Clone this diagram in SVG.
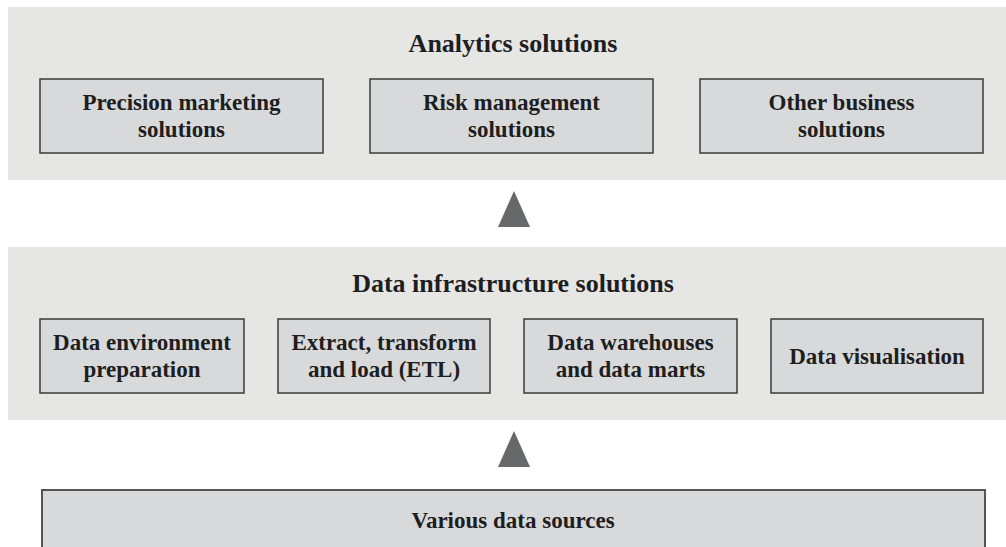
<svg xmlns="http://www.w3.org/2000/svg" width="1006" height="547" viewBox="0 0 1006 547">
  <style>
    .panel { fill: #e6e6e5; }
    .box { fill: #d8d9db; stroke: #3a3a3a; stroke-width: 1.5; }
    .src { fill: #d8d9db; stroke: #555555; stroke-width: 2; }
    .title { font-family: "Liberation Serif", "Times New Roman", serif; font-weight: bold; font-size: 26px; fill: #1e1e1e; text-anchor: middle; }
    .label { font-family: "Liberation Serif", "Times New Roman", serif; font-weight: bold; font-size: 23px; fill: #1e1e1e; text-anchor: middle; }
    .arrow { fill: #67686a; }
  </style>
  <rect width="1006" height="547" fill="#ffffff"/>

  <!-- Top layer: analytics -->
  <g id="analytics-panel">
    <rect class="panel" x="8" y="7" width="998" height="173"/>
    <text class="title" x="513" y="52">Analytics solutions</text>
  </g>
  <g id="precision-marketing">
    <rect class="box" x="40" y="79" width="283" height="74"/>
    <text class="label" x="181.5" y="110">Precision marketing</text>
    <text class="label" x="181.5" y="137">solutions</text>
  </g>
  <g id="risk-management">
    <rect class="box" x="370" y="79" width="283" height="74"/>
    <text class="label" x="511.5" y="110">Risk management</text>
    <text class="label" x="511.5" y="137">solutions</text>
  </g>
  <g id="other-business">
    <rect class="box" x="700" y="79" width="283" height="74"/>
    <text class="label" x="841.5" y="110">Other business</text>
    <text class="label" x="841.5" y="137">solutions</text>
  </g>

  <!-- Middle layer: data infrastructure -->
  <g id="infrastructure-panel">
    <rect class="panel" x="8" y="247" width="998" height="173"/>
    <text class="title" x="513" y="292">Data infrastructure solutions</text>
  </g>
  <g id="data-environment">
    <rect class="box" x="40" y="319" width="204" height="74"/>
    <text class="label" x="142" y="350">Data environment</text>
    <text class="label" x="142" y="377">preparation</text>
  </g>
  <g id="etl">
    <rect class="box" x="278" y="319" width="212" height="74"/>
    <text class="label" x="384" y="350">Extract, transform</text>
    <text class="label" x="384" y="377">and load (ETL)</text>
  </g>
  <g id="warehouses">
    <rect class="box" x="524" y="319" width="213" height="74"/>
    <text class="label" x="630.5" y="350">Data warehouses</text>
    <text class="label" x="630.5" y="377">and data marts</text>
  </g>
  <g id="visualisation">
    <rect class="box" x="771" y="319" width="212" height="74"/>
    <text class="label" x="877" y="364">Data visualisation</text>
  </g>

  <!-- Bottom layer: sources -->
  <g id="data-sources">
    <rect class="src" x="42" y="490" width="943" height="70"/>
    <text class="label" x="513" y="528">Various data sources</text>
  </g>

  <!-- Upward flow markers between layers -->
  <g id="connectors">
    <polygon class="arrow" points="514,191 498,227 530,227"/>
    <polygon class="arrow" points="514,431 498,467 530,467"/>
  </g>
</svg>
